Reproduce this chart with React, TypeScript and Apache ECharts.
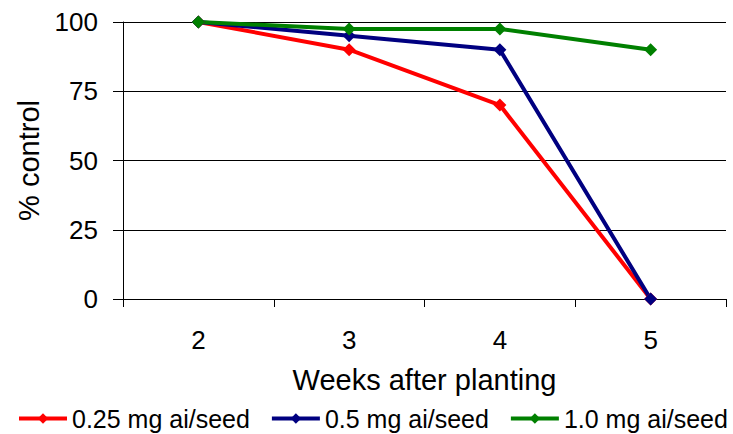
import React, { useEffect, useRef } from "react";
import * as echarts from "echarts";

const weeks = ["2", "3", "4", "5"];
const seriesNames = ["0.25 mg ai/seed", "0.5 mg ai/seed", "1.0 mg ai/seed"];
const low = [100, 90, 70, 0];
const mid = [100, 95, 90, 0];
const high = [100, 97.5, 97.5, 90];
const colors = ["#ff0000", "#000080", "#008000"];

export default function App() {
  const ref = useRef<HTMLDivElement>(null);
  useEffect(() => {
    document.body.style.margin = "0";
    const chart = echarts.init(ref.current!, undefined, { renderer: "svg" });
    const font = "'Liberation Sans', Arial, sans-serif";
    const mk = (name: string, data: number[], color: string) => ({
      name,
      type: "line",
      data,
      symbol: "diamond",
      symbolSize: 13,
      lineStyle: { color, width: 4 },
      itemStyle: { color },
    });
    chart.setOption({
      animation: false,
      backgroundColor: "#ffffff",
      textStyle: { fontFamily: font, color: "#000" },
      grid: { left: 123, right: 7, top: 22, bottom: 135 },
      legend: {
        top: 401,
        left: 12,
        itemWidth: 48,
        itemHeight: 13,
        itemGap: 20,
        lineStyle: { width: 4 },
        textStyle: { fontFamily: font, fontSize: 25, color: "#000" },
        data: seriesNames,
      },
      xAxis: {
        type: "category",
        data: weeks,
        boundaryGap: true,
        name: "Weeks after planting",
        nameLocation: "middle",
        nameGap: 66,
        nameTextStyle: { fontFamily: font, fontSize: 29, color: "#000" },
        axisLine: { lineStyle: { color: "#000", width: 1 } },
        axisTick: { show: true, length: 8, lineStyle: { color: "#000" } },
        axisLabel: { fontFamily: font, fontSize: 26, color: "#000", margin: 28 },
        splitLine: { show: false },
      },
      yAxis: {
        type: "value",
        min: 0,
        max: 100,
        interval: 25,
        name: "% control",
        nameLocation: "middle",
        nameGap: 78,
        nameTextStyle: { fontFamily: font, fontSize: 29, color: "#000" },
        axisLine: { show: true, lineStyle: { color: "#000", width: 1 } },
        axisTick: { show: true, length: 10, lineStyle: { color: "#000" } },
        axisLabel: { fontFamily: font, fontSize: 26, color: "#000", margin: 25 },
        splitLine: { show: true, lineStyle: { color: "#000", width: 1 } },
      },
      series: [
        mk(seriesNames[0], low, colors[0]),
        mk(seriesNames[1], mid, colors[1]),
        mk(seriesNames[2], high, colors[2]),
      ],
    });
    return () => chart.dispose();
  }, []);
  return <div ref={ref} style={{ width: 733, height: 434 }} />;
}
